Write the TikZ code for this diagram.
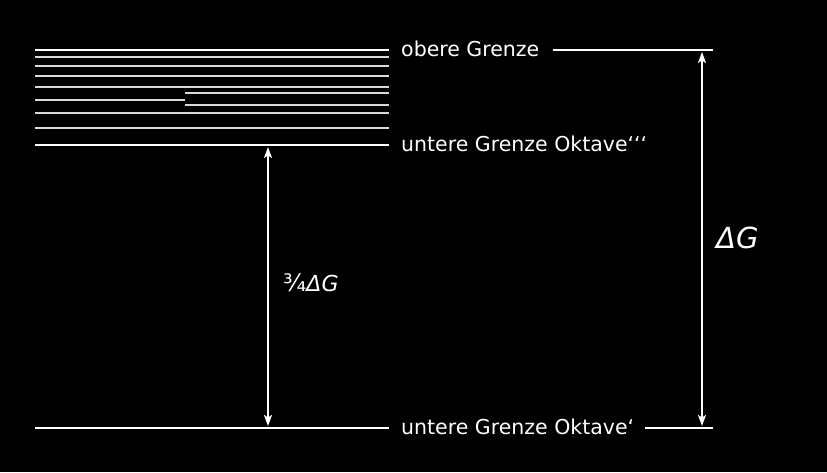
\documentclass[tikz,border=0pt]{standalone}
\usepackage{fontspec}
\setmainfont{DejaVu Sans}
\usetikzlibrary{arrows.meta}
\begin{document}
\begin{tikzpicture}[x=1pt,y=-1pt,
  level/.style={white,line width=2pt},
  sublevel/.style={white!85!black,line width=1.3pt},
  label/.style={white,anchor=base west,inner sep=0pt,font=\fontsize{20.5}{24}\selectfont},
  dim/.style={white,line width=1.6pt,{Stealth[length=11pt,width=8pt,inset=2.5pt]}-{Stealth[length=11pt,width=8pt,inset=2.5pt]}},
  dlabel/.style={white,inner sep=0pt,font=\itshape\fontsize{29}{34}\selectfont}]
\fill[black] (0,0) rectangle (827,472);
\useasboundingbox (0,0) rectangle (827,472);
% fine levels between the two octave bounds
\foreach \y in {57,66,76,87,113,128}
  \draw[sublevel] (35,\y) -- (389,\y);
\draw[sublevel] (185,93) -- (389,93);
\draw[sublevel] (35,100) -- (185,100);
\draw[sublevel] (185,105) -- (389,105);
% main levels
\coordinate (topL) at (35,50);
\coordinate (topR) at (389,50);
\coordinate (midL) at (35,145);
\coordinate (midR) at (389,145);
\coordinate (botL) at (35,428);
\coordinate (botR) at (389,428);
\draw[level] (topL) -- (topR);
\draw[level] (midL) -- (midR);
\draw[level] (botL) -- (botR);
% labels
\node[label] (obere) at (401,56) {obere Grenze};
\node[label] (mitte) at (401,151) {untere Grenze Oktave‘‘‘};
\node[label] (unten) at (401,434) {untere Grenze Oktave‘};
\coordinate (obereEnd) at (713,50);
\coordinate (untenEnd) at (713,428);
\draw[level] ([xshift=13pt]obere.east |- topL) -- (obereEnd);
\draw[level] ([xshift=11pt]unten.east |- botL) -- (untenEnd);
% dimension arrows
\coordinate (a1) at (268,147);
\coordinate (a2) at (268,426);
\coordinate (b1) at (702,52);
\coordinate (b2) at (702,426);
\draw[dim] (a1) -- (a2);
\draw[dim] (b1) -- (b2);
\node[dlabel,anchor=west,font=\itshape\fontsize{22}{26}\selectfont] (dgk) at (283,283) {{\upshape\fontsize{24}{28}\selectfont ¾}ΔG};
\node[dlabel,anchor=west] (dg) at (716,238) {ΔG};
\end{tikzpicture}
\end{document}
